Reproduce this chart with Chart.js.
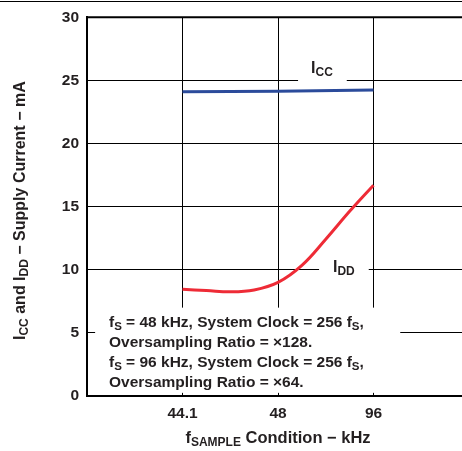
<!DOCTYPE html>
<html>
<head>
<meta charset="utf-8">
<script src="https://cdn.jsdelivr.net/npm/chart.js@4.4.1/dist/chart.umd.min.js"></script>
<style>
  html, body { margin: 0; padding: 0; background: #fff; overflow: hidden; }
  #wrap { position: absolute; left: 0; top: 0; width: 470px; height: 451px; }
</style>
</head>
<body>
<div id="wrap"><canvas id="chart" width="470" height="451"></canvas></div>
<script>
// x positions of the sample conditions (category index on a linear axis)
const condPos = [1, 2, 3];
const condLabels = ['44.1', '48', '96'];

// ICC supply current, mA
const iccX = [1, 2, 3];
const iccY = [24.1, 24.15, 24.25];

// IDD supply current, mA
const iddX = [1, 1.25, 1.5, 1.75, 2, 2.25, 2.5, 2.75, 3];
const iddY = [8.45, 8.36, 8.25, 8.4, 9.0, 10.35, 12.42, 14.63, 16.7];

const yTicks = [0, 5, 10, 15, 20, 25, 30];

const FONT = '"Liberation Sans", Arial, Helvetica, sans-serif';
const INK = '#231f20';

// width of text made of [text, isSubscript] parts
function richWidth(ctx, parts, size, subSize) {
    let w = 0;
    for (let p of parts) {
        ctx.font = 'bold ' + (p[1] ? subSize : size) + 'px ' + FONT;
        w += ctx.measureText(p[0]).width;
    }
    return w;
}

function drawRich(ctx, parts, x, y, size, subSize, align) {
    let w = richWidth(ctx, parts, size, subSize);
    let cx = x;
    if (align === 'center') cx = x - w / 2;
    ctx.textAlign = 'left';
    ctx.textBaseline = 'alphabetic';
    ctx.fillStyle = INK;
    for (let p of parts) {
        ctx.font = 'bold ' + (p[1] ? subSize : size) + 'px ' + FONT;
        ctx.fillText(p[0], cx, p[1] ? y + 3 : y);
        cx += ctx.measureText(p[0]).width;
    }
}

const notes = [
    [['f', 0], ['S', 1], [' = 48 kHz, System Clock = 256 f', 0], ['S', 1], [',', 0]],
    [['Oversampling Ratio = \u00d7128.', 0]],
    [['f', 0], ['S', 1], [' = 96 kHz, System Clock = 256 f', 0], ['S', 1], [',', 0]],
    [['Oversampling Ratio = \u00d764.', 0]]
];

const decor = {
    id: 'decor',
    beforeDatasetsDraw(chart) {
        const ctx = chart.ctx;
        const xs = chart.scales.x, ys = chart.scales.y;
        ctx.save();
        ctx.fillStyle = '#fff';
        // note box hides the grid behind it
        let bx0 = xs.getPixelForValue(0.085), bx1 = xs.getPixelForValue(3.28);
        let by0 = ys.getPixelForValue(7.0), by1 = ys.getPixelForValue(0.25);
        ctx.fillRect(bx0, by0, bx1 - bx0, by1 - by0);
        // gaps in grid behind the series labels
        let g1 = xs.getPixelForValue(2.21), g2 = xs.getPixelForValue(2.72);
        ctx.fillRect(g1, ys.getPixelForValue(25) - 3, g2 - g1, 6);
        let g3 = xs.getPixelForValue(2.43), g4 = xs.getPixelForValue(2.95);
        ctx.fillRect(g3, ys.getPixelForValue(10) - 3, g4 - g3, 6);
        ctx.restore();
    },
    afterDraw(chart) {
        const ctx = chart.ctx;
        const xs = chart.scales.x, ys = chart.scales.y;
        const area = chart.chartArea;
        ctx.save();
        // frame lines at the top
        ctx.strokeStyle = '#000';
        ctx.lineWidth = 1;
        ctx.beginPath();
        ctx.moveTo(0, 1.5);
        ctx.lineTo(chart.width, 1.5);
        ctx.stroke();
        ctx.lineWidth = 2;
        ctx.beginPath();
        ctx.moveTo(area.left - 1, area.top);
        ctx.lineTo(chart.width, area.top);
        ctx.stroke();

        // x tick labels
        ctx.font = 'bold 15.5px ' + FONT;
        ctx.fillStyle = INK;
        ctx.textAlign = 'center';
        ctx.textBaseline = 'alphabetic';
        condPos.forEach((v, i) => {
            ctx.fillText(condLabels[i], xs.getPixelForValue(v), area.bottom + 22);
        });

        // x title
        drawRich(ctx, [['f', 0], ['SAMPLE', 1], [' Condition \u2212 kHz', 0]],
            xs.getPixelForValue(2), area.bottom + 47, 16.5, 12, 'center');

        // y title
        ctx.save();
        ctx.translate(25, (area.top + area.bottom) / 2 + 4);
        ctx.rotate(-Math.PI / 2);
        drawRich(ctx, [['I', 0], ['CC', 1], [' and I', 0], ['DD', 1], [' \u2212 Supply Current \u2212 mA', 0]],
            0, 0, 16, 12, 'center');
        ctx.restore();

        // series labels
        drawRich(ctx, [['I', 0], ['CC', 1]], xs.getPixelForValue(2.46), ys.getPixelForValue(25.6), 16, 12, 'center');
        drawRich(ctx, [['I', 0], ['DD', 1]], xs.getPixelForValue(2.69), ys.getPixelForValue(9.8), 16, 12, 'center');

        // notes
        let nx = xs.getPixelForValue(0.23);
        let ny = ys.getPixelForValue(5.5);
        notes.forEach((line, i) => {
            drawRich(ctx, line, nx, ny + i * 20, 15.5, 11.5, 'left');
        });
        ctx.restore();
    }
};

new Chart(document.getElementById('chart'), {
    type: 'line',
    data: {
        datasets: [
            {
                label: 'ICC',
                data: iccX.map((x, i) => ({ x: x, y: iccY[i] })),
                borderColor: '#2b4b9b',
                borderWidth: 3,
                pointRadius: 0,
                tension: 0
            },
            {
                label: 'IDD',
                data: iddX.map((x, i) => ({ x: x, y: iddY[i] })),
                borderColor: '#ee2b36',
                borderWidth: 3,
                pointRadius: 0,
                tension: 0.4
            }
        ]
    },
    options: {
        responsive: false,
        animation: false,
        layout: { padding: { top: 15, left: 0, right: 1, bottom: 0 } },
        plugins: { legend: { display: false }, tooltip: { enabled: false } },
        scales: {
            x: {
                type: 'linear',
                min: 0,
                max: 4,
                afterBuildTicks: (axis) => {
                    axis.ticks = [0].concat(condPos, [4]).map(v => ({ value: v }));
                },
                afterFit: (axis) => { axis.height = 55; },
                ticks: { display: false },
                grid: { color: '#000', lineWidth: 1, drawTicks: false },
                border: { color: '#000', width: 2 }
            },
            y: {
                min: 0,
                max: 30,
                afterBuildTicks: (axis) => {
                    axis.ticks = yTicks.map(v => ({ value: v }));
                },
                afterFit: (axis) => { axis.width = 87; },
                ticks: {
                    color: INK,
                    padding: 8,
                    font: { family: FONT, size: 15.5, weight: 'bold' }
                },
                grid: { color: '#000', lineWidth: 1, drawTicks: false },
                border: { color: '#000', width: 2 }
            }
        }
    },
    plugins: [decor]
});
</script>
</body>
</html>
